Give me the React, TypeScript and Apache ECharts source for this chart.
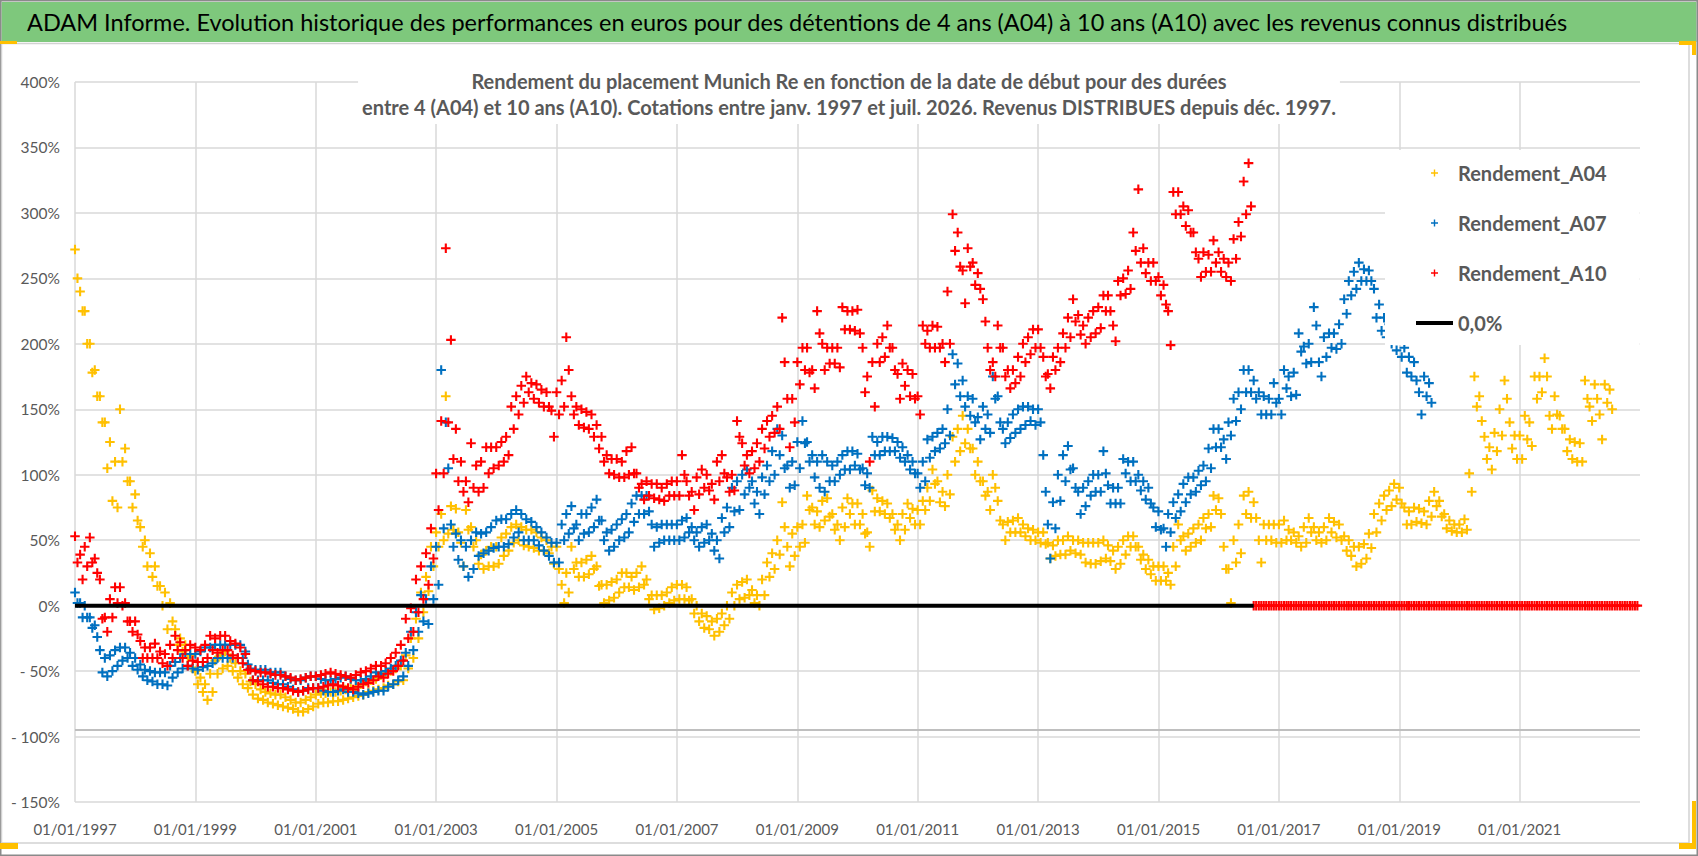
import React, { useEffect, useRef } from "react";
import * as echarts from "echarts";

// ---------- texts ----------
const mainTitle =
  "ADAM Informe. Evolution historique des performances en euros pour des détentions de 4 ans (A04) à 10 ans (A10) avec les revenus connus distribués";
const subTitleLines = [
  "Rendement du placement Munich Re en fonction de la date de début pour des durées",
  "entre 4 (A04) et 10 ans (A10). Cotations entre janv. 1997 et juil. 2026. Revenus DISTRIBUES depuis déc. 1997.",
];
const seriesNames = ["Rendement_A04", "Rendement_A07", "Rendement_A10", "0,0%"];
const seriesColors = ["#FFC000", "#0070C0", "#FF0000", "#000000"];

// ---------- axes ----------
const firstMonth = [1997, 0]; // data: one upper and one lower reading per month
const axisStart = "1997-01-01";
const axisEnd = "2023-01-01";
const xTickDays = 730.5; // 2 years
const yMin = -150;
const yMax = 400;
const yStep = 50;
const axisCrossValue = -95;
const zeroLineDates = ["1997-01-01", "2016-08-01"];
const zeroLineValues = [0, 0];

// ---------- data (in %, per month: upper / lower reading of the cloud) ----------
const a04Hi = [
  272, 240, 225, 200, 180, 160, 140, 125, 110, 150, 120, 95,
  85, 60, 50, 40, 30, 15, 10, 2, -18, -25, -30, -38,
  -50, -55, -60, -52, -42, -38, -35, -40, -44, -50, -52, -58,
  -60, -64, -66, -67, -68, -68, -70, -72, -74, -74, -72, -70,
  -68, -67, -67, -66, -66, -65, -64, -63, -62, -60, -58, -57,
  -56, -53, -51, -50, -48, -46, -38, -25, -10, 10, 22, 45,
  56, 70, 160, 76, 74, 48, 73, 60, 50, 39, 42, 45,
  45, 52, 55, 60, 62, 60, 58, 58, 56, 52, 50, 45,
  45, 16, 25, 45, 33, 33, 35, 38, 30, 16, 16, 18,
  20, 25, 25, 22, 25, 30, 20, 8, 8, 8, 10, 14,
  16, 16, 14, 5, 0, -6, -8, -12, -10, -6, 0, 10,
  16, 18, 20, 12, 8, 20, 33, 40, 50, 79, 45, 55,
  60, 62, 84, 75, 72, 80, 82, 70, 62, 75, 82, 78,
  78, 70, 56, 88, 82, 80, 78, 70, 62, 70, 78, 74,
  73, 80, 90, 104, 95, 87, 100, 129, 135, 145, 135, 120,
  110, 95, 87, 100, 80, 62, 64, 65, 67, 62, 59, 58,
  56, 56, 48, 46, 50, 50, 53, 50, 50, 48, 48, 48,
  48, 50, 46, 42, 45, 50, 53, 53, 45, 39, 35, 30,
  30, 30, 25, 45, 62, 53, 55, 59, 62, 67, 70, 84,
  82, 45, 28, 50, 62, 84, 87, 79, 50, 62, 62, 62,
  62, 65, 58, 56, 53, 60, 67, 60, 56, 60, 67, 64,
  62, 53, 50, 45, 45, 47, 55, 70, 78, 84, 88, 93,
  90, 75, 72, 75, 74, 72, 80, 87, 80, 70, 65, 62,
  62, 66, 101, 175, 160, 129, 121, 132, 150, 172, 140, 130,
  130, 145, 140, 175, 175, 189, 145, 160, 145, 135, 127, 125,
  124, 172, 152, 169, 146, 169, 165,
];
const a04Lo = [
  250, 225, 200, 178, 160, 140, 105, 80, 75, 110, 95, 75,
  65, 45, 30, 22, 15, 0, -18, -12, -30, -35, -40, -48,
  -60, -66, -72, -66, -52, -48, -46, -50, -55, -60, -63, -68,
  -71, -72, -74, -75, -76, -77, -78, -79, -81, -81, -79, -77,
  -75, -74, -74, -73, -73, -72, -71, -70, -69, -68, -66, -65,
  -64, -63, -61, -60, -58, -57, -48, -40, -25, -5, 11, 30,
  45, 50, 55, 58, 56, 30, 58, 45, 32, 28, 30, 30,
  32, 38, 42, 48, 50, 46, 45, 44, 42, 42, 40, 32,
  28, 2, 10, 28, 22, 22, 24, 28, 15, 2, 4, 6,
  10, 14, 14, 12, 14, 16, 5, -3, -2, 0, 2, 4,
  5, 5, 4, -6, -12, -17, -18, -23, -20, -15, -10, 0,
  5, 6, 8, 2, 0, 8, 22, 28, 39, 60, 30, 38,
  45, 48, 73, 62, 60, 65, 68, 58, 50, 60, 70, 62,
  62, 55, 45, 72, 72, 70, 67, 58, 50, 58, 67, 62,
  62, 73, 80, 93, 79, 76, 85, 110, 118, 124, 120, 100,
  95, 84, 73, 90, 65, 50, 56, 56, 56, 53, 50, 50,
  48, 47, 36, 38, 39, 39, 42, 40, 39, 33, 32, 32,
  34, 36, 34, 28, 32, 39, 45, 45, 35, 28, 24, 19,
  19, 19, 16, 30, 50, 42, 45, 48, 50, 59, 60, 73,
  70, 28, 2, 33, 40, 70, 67, 67, 33, 50, 50, 48,
  48, 50, 50, 48, 45, 48, 56, 50, 48, 50, 56, 52,
  50, 42, 38, 30, 32, 36, 44, 56, 65, 73, 76, 81,
  78, 62, 62, 64, 63, 62, 68, 76, 68, 59, 57, 56,
  56, 58, 87, 152, 141, 112, 104, 118, 130, 158, 120, 112,
  112, 127, 122, 158, 163, 175, 135, 146, 135, 118, 112, 110,
  110, 158, 141, 158, 127, 155, 150,
];

const a07Hi = [
  10, 2, 0, -9, -15, -34, -40, -38, -34, -32, -32, -36,
  -40, -45, -49, -50, -51, -51, -51, -46, -43, -40, -37, -37,
  -37, -35, -32, -32, -30, -30, -30, -30, -30, -30, -35, -48,
  -49, -49, -49, -51, -51, -51, -54, -56, -57, -57, -55, -54,
  -54, -56, -57, -57, -56, -55, -54, -56, -57, -57, -56, -54,
  -51, -52, -50, -48, -46, -42, -36, -20, -5, 8, 5, 30,
  45, 180, 140, 62, 55, 50, 45, 50, 56, 55, 56, 60,
  65, 66, 66, 70, 73, 70, 66, 64, 60, 56, 52, 48,
  48, 62, 70, 76, 62, 70, 70, 75, 81, 65, 56, 58,
  62, 66, 70, 78, 84, 84, 84, 62, 60, 62, 62, 62,
  62, 65, 67, 60, 56, 60, 62, 55, 50, 67, 75, 90,
  95, 100, 104, 95, 87, 98, 107, 118, 135, 130, 107, 110,
  125, 141, 125, 115, 110, 115, 110, 107, 110, 115, 118, 118,
  116, 105, 101, 129, 125, 129, 129, 128, 125, 121, 115, 110,
  101, 110, 127, 129, 132, 135, 150, 192, 185, 172, 160, 158,
  144, 152, 146, 175, 160, 135, 140, 146, 150, 152, 152, 150,
  150, 115, 62, 79, 100, 115, 122, 105, 87, 90, 95, 100,
  100, 118, 92, 90, 90, 112, 110, 110, 100, 95, 90, 75,
  72, 59, 70, 79, 85, 93, 98, 98, 103, 107, 120, 135,
  135, 127, 140, 158, 163, 180, 180, 172, 163, 160, 158, 170,
  158, 180, 175, 178, 208, 198, 200, 228, 186, 205, 208, 208,
  215, 234, 248, 255, 262, 257, 256, 242, 230, 220, 215, 210,
  205, 197, 190, 186, 163, 175, 170,
];
const a07Lo = [
  2, -9, -9, -17, -24, -51, -54, -50, -46, -42, -40, -46,
  -49, -54, -57, -58, -60, -60, -61, -55, -51, -48, -46, -48,
  -49, -47, -46, -44, -40, -40, -40, -40, -40, -40, -45, -57,
  -57, -57, -57, -59, -60, -60, -62, -64, -66, -65, -63, -63,
  -63, -65, -66, -66, -65, -64, -66, -66, -67, -68, -67, -66,
  -65, -65, -62, -60, -57, -54, -46, -34, -20, -12, -14, 5,
  16, 59, 105, 45, 35, 30, 22, 28, 38, 40, 42, 44,
  45, 45, 47, 52, 56, 50, 50, 50, 46, 42, 38, 33,
  33, 50, 55, 59, 50, 55, 56, 60, 65, 50, 42, 45,
  50, 52, 56, 64, 70, 70, 72, 45, 48, 50, 50, 50,
  50, 52, 56, 50, 45, 48, 50, 42, 36, 56, 60, 72,
  73, 85, 90, 78, 70, 85, 95, 100, 115, 105, 90, 92,
  105, 124, 110, 98, 90, 87, 95, 95, 100, 104, 104, 107,
  104, 92, 90, 115, 115, 118, 118, 118, 113, 110, 104, 101,
  90, 95, 113, 118, 120, 124, 130, 169, 160, 152, 145, 140,
  127, 135, 132, 158, 140, 124, 128, 132, 135, 138, 141, 138,
  140, 87, 36, 59, 80, 95, 104, 90, 70, 76, 84, 87,
  87, 101, 78, 78, 78, 101, 95, 95, 88, 81, 78, 60,
  58, 45, 56, 67, 72, 79, 85, 87, 92, 95, 105, 121,
  121, 112, 130, 141, 150, 163, 163, 158, 146, 146, 146, 155,
  146, 166, 160, 161, 194, 185, 186, 214, 175, 190, 197, 196,
  200, 223, 237, 242, 248, 248, 248, 220, 210, 205, 200, 195,
  190, 178, 175, 172, 146, 160, 155,
];

const a10Hi = [
  53, 39, 45, 52, 36, 20, -9, 5, 14, 14, 2, -12,
  -12, -27, -32, -32, -29, -35, -37, -30, -23, -28, -34, -30,
  -32, -34, -30, -23, -25, -23, -23, -27, -29, -32, -37, -49,
  -50, -51, -51, -52, -53, -53, -54, -55, -57, -56, -55, -54,
  -54, -53, -52, -51, -52, -53, -54, -55, -53, -51, -50, -48,
  -46, -46, -44, -40, -36, -30, -10, -2, 20, 30, 40, 59,
  101, 141, 273, 203, 135, 110, 95, 124, 107, 110, 121, 121,
  121, 125, 129, 152, 160, 168, 175, 170, 169, 165, 163, 149,
  163, 172, 205, 160, 152, 150, 148, 146, 138, 129, 115, 112,
  112, 110, 118, 121, 101, 93, 95, 93, 93, 90, 93, 95,
  95, 115, 95, 87, 98, 104, 100, 93, 110, 115, 98, 100,
  141, 124, 115, 118, 124, 135, 141, 145, 152, 220, 158, 158,
  186, 197, 197, 180, 225, 200, 197, 197, 197, 228, 225, 225,
  226, 197, 175, 186, 200, 205, 214, 197, 177, 185, 180, 177,
  160, 214, 210, 214, 213, 200, 240, 299, 285, 256, 273, 262,
  254, 234, 197, 186, 214, 197, 180, 180, 190, 200, 205, 211,
  211, 190, 177, 190, 197, 208, 220, 234, 222, 214, 220, 225,
  228, 237, 237, 214, 248, 250, 256, 285, 318, 273, 262, 262,
  251, 245, 225, 316, 316, 305, 302, 285, 265, 270, 268, 279,
  270, 265, 262, 280, 293, 324, 338, 0, 0, 0, 0, 0,
  0, 0, 0, 0, 0, 0, 0, 0, 0, 0, 0, 0,
  0, 0, 0, 0, 0, 0, 0, 0, 0, 0, 0, 0,
  0, 0, 0, 0, 0, 0, 0, 0, 0, 0, 0, 0,
  0, 0, 0, 0, 0, 0, 0, 0, 0, 0, 0, 0,
  0, 0, 0, 0, 0, 0, 0, 0, 0, 0, 0, 0,
  0, 0, 0, 0, 0, 0, 0, 0, 0, 0, 0, 0,
];
const a10Lo = [
  33, 20, 30, 33, 25, -10, -20, -9, 2, 0, -12, -20,
  -22, -40, -40, -40, -40, -44, -46, -40, -34, -40, -46, -42,
  -43, -43, -40, -34, -36, -34, -34, -38, -40, -44, -49, -57,
  -58, -60, -62, -62, -63, -63, -64, -65, -66, -65, -64, -63,
  -63, -62, -61, -60, -61, -62, -63, -64, -62, -60, -59, -57,
  -54, -55, -52, -50, -46, -42, -25, -20, -5, 5, 16, 36,
  73, 101, 140, 112, 95, 87, 79, 90, 87, 90, 101, 105,
  107, 110, 115, 135, 146, 155, 163, 158, 155, 152, 152, 129,
  146, 152, 180, 146, 138, 136, 135, 129, 120, 110, 101, 100,
  98, 98, 100, 101, 90, 81, 84, 82, 81, 80, 84, 84,
  84, 100, 84, 73, 85, 90, 88, 81, 95, 101, 87, 88,
  129, 107, 101, 105, 110, 120, 129, 132, 135, 186, 121, 140,
  169, 180, 178, 166, 208, 180, 185, 185, 182, 211, 211, 210,
  208, 163, 110, 152, 186, 190, 197, 180, 158, 168, 160, 158,
  146, 200, 197, 197, 197, 186, 200, 271, 259, 231, 259, 245,
  242, 217, 180, 175, 197, 175, 166, 170, 175, 186, 192, 197,
  197, 175, 166, 180, 186, 197, 205, 217, 207, 200, 205, 208,
  212, 225, 225, 202, 237, 238, 242, 271, 262, 254, 248, 248,
  237, 230, 199, 299, 299, 290, 285, 270, 251, 255, 255, 262,
  255, 251, 248, 265, 282, 299, 305, 0, 0, 0, 0, 0,
  0, 0, 0, 0, 0, 0, 0, 0, 0, 0, 0, 0,
  0, 0, 0, 0, 0, 0, 0, 0, 0, 0, 0, 0,
  0, 0, 0, 0, 0, 0, 0, 0, 0, 0, 0, 0,
  0, 0, 0, 0, 0, 0, 0, 0, 0, 0, 0, 0,
  0, 0, 0, 0, 0, 0, 0, 0, 0, 0, 0, 0,
  0, 0, 0, 0, 0, 0, 0, 0, 0, 0, 0, 0,
];

// ---------- helpers ----------
const DAY = 86400000;
const ORIGIN = Date.parse(axisStart + "T00:00:00Z");
const toDays = (iso: string) => (Date.parse(iso + "T00:00:00Z") - ORIGIN) / DAY;

function monthlyPoints(hi: number[], lo: number[]) {
  const pts: number[][] = [];
  for (let i = 0; i < hi.length; i++) {
    pts.push([(Date.UTC(firstMonth[0], firstMonth[1] + i, 1) - ORIGIN) / DAY, hi[i]]);
    pts.push([(Date.UTC(firstMonth[0], firstMonth[1] + i, 16) - ORIGIN) / DAY, lo[i]]);
  }
  return pts;
}

const pad2 = (n: number) => (n < 10 ? "0" + n : "" + n);
function fmtDay(v: number) {
  const d = new Date(ORIGIN + v * DAY);
  return pad2(d.getUTCDate()) + "/" + pad2(d.getUTCMonth() + 1) + "/" + d.getUTCFullYear();
}
function fmtPct(v: number) {
  return v < 0 ? "- " + Math.abs(v) + "%" : v + "%";
}

const PLUS = "path://M3.7,0H5.8V3.7H9.5V5.8H5.8V9.5H3.7V5.8H0V3.7H3.7Z";
const PLUS_LEGEND =
  "path://M0,0M37,8M17.8,0.5H19.2V3.3H22V4.7H19.2V7.5H17.8V4.7H15V3.3H17.8Z";
const LINE_LEGEND = "path://M0,0M37,8M0,2H37V6H0Z";

const FONT = "Lato, 'Open Sans', sans-serif";

export default function App() {
  const ref = useRef<HTMLDivElement>(null);

  useEffect(() => {
    if (!ref.current) return;
    const chart = echarts.init(ref.current, null, { renderer: "svg" });

    const scatter = (idx: number, hi: number[], lo: number[]) => ({
      name: seriesNames[idx],
      type: "scatter",
      data: monthlyPoints(hi, lo),
      symbol: PLUS,
      symbolSize: 9.5,
      symbolKeepAspect: true,
      itemStyle: { color: seriesColors[idx], opacity: 1 },
      emphasis: { disabled: true },
      z: 2,
    });

    const option: any = {
      animation: false,
      backgroundColor: "#ffffff",
      textStyle: { fontFamily: FONT },
      graphic: [
        { type: "rect", shape: { x: 1.5, y: 2, width: 1695, height: 40 }, style: { fill: "#7ec87c" }, z: 0, silent: true },
        { type: "rect", shape: { x: 0.75, y: 0.75, width: 1696.5, height: 854.5 }, style: { fill: "none", stroke: "#8a8a8a", lineWidth: 1.5 }, z: 0, silent: true },
        { type: "rect", shape: { x: 1.5, y: 43.5, width: 1687.5, height: 799.5 }, style: { fill: "none", stroke: "#d2d2d2", lineWidth: 1.5 }, z: 0, silent: true },
        { type: "rect", shape: { x: 0, y: 41, width: 17, height: 3 }, style: { fill: "#FFC000" }, z: 1, silent: true },
        { type: "rect", shape: { x: 0, y: 843, width: 18, height: 6 }, style: { fill: "#FFC000" }, z: 1, silent: true },
        { type: "rect", shape: { x: 1679, y: 41, width: 17, height: 4 }, style: { fill: "#FFC000" }, z: 1, silent: true },
        { type: "rect", shape: { x: 1692, y: 41, width: 4, height: 14 }, style: { fill: "#FFC000" }, z: 1, silent: true },
        { type: "rect", shape: { x: 1692, y: 801, width: 4, height: 48 }, style: { fill: "#FFC000" }, z: 1, silent: true },
        { type: "rect", shape: { x: 1679, y: 843, width: 17, height: 6 }, style: { fill: "#FFC000" }, z: 1, silent: true },
      ],
      title: [
        {
          text: mainTitle,
          left: 27,
          top: 10,
          padding: 0,
          textStyle: { fontFamily: FONT, fontSize: 23.5, fontWeight: "normal", color: "#000000" },
        },
        {
          text: subTitleLines.join("\n"),
          left: "center",
          top: 64,
          padding: [4, 4],
          backgroundColor: "#ffffff",
          textStyle: { fontFamily: FONT, fontSize: 20, fontWeight: "bold", color: "#595959", lineHeight: 26 },
        },
      ],
      legend: {
        orient: "vertical",
        left: 1385,
        top: 150,
        padding: [10, 33, 9, 31],
        backgroundColor: "#ffffff",
        itemWidth: 37,
        itemHeight: 8,
        itemGap: 24,
        selectedMode: false,
        textStyle: { fontFamily: FONT, fontSize: 20, fontWeight: "bold", color: "#595959", lineHeight: 26 },
        data: [
          { name: seriesNames[0], icon: PLUS_LEGEND },
          { name: seriesNames[1], icon: PLUS_LEGEND },
          { name: seriesNames[2], icon: PLUS_LEGEND },
          { name: seriesNames[3], icon: LINE_LEGEND, itemStyle: { color: "#000000" } },
        ],
      },
      grid: { left: 75, top: 82, width: 1565, height: 720, containLabel: false },
      xAxis: {
        type: "value",
        min: 0,
        max: toDays(axisEnd),
        interval: xTickDays,
        axisLine: { show: false, onZero: false },
        axisTick: { show: false },
        axisLabel: {
          margin: 19,
          fontSize: 15,
          color: "#595959",
          fontFamily: FONT,
          showMaxLabel: false,
          formatter: (v: number) => fmtDay(v),
        },
        splitLine: { show: true, showMaxLine: false, lineStyle: { color: "#d9d9d9", width: 1.5 } },
      },
      yAxis: {
        type: "value",
        min: yMin,
        max: yMax,
        interval: yStep,
        axisLine: { show: false },
        axisTick: { show: false },
        axisLabel: { margin: 15, fontSize: 15.5, color: "#595959", fontFamily: FONT, formatter: (v: number) => fmtPct(v) },
        splitLine: { show: true, lineStyle: { color: "#d9d9d9", width: 1.5 } },
      },
      series: [
        scatter(0, a04Hi, a04Lo),
        scatter(1, a07Hi, a07Lo),
        scatter(2, a10Hi, a10Lo),
        {
          name: seriesNames[3],
          type: "line",
          data: zeroLineDates.map((d, i) => [toDays(d), zeroLineValues[i]]),
          symbol: "none",
          lineStyle: { color: seriesColors[3], width: 4 },
          itemStyle: { color: seriesColors[3] },
          emphasis: { disabled: true },
          z: 3,
          markLine: {
            silent: true,
            symbol: ["none", "none"],
            label: { show: false },
            lineStyle: { color: "#bfbfbf", width: 2, type: "solid" },
            data: [{ yAxis: axisCrossValue }],
          },
        },
      ],
    };

    chart.setOption(option);
    return () => chart.dispose();
  }, []);

  return (
    <div
      ref={ref}
      style={{ position: "fixed", left: 0, top: 0, width: 1698, height: 856, background: "#fff" }}
    />
  );
}
